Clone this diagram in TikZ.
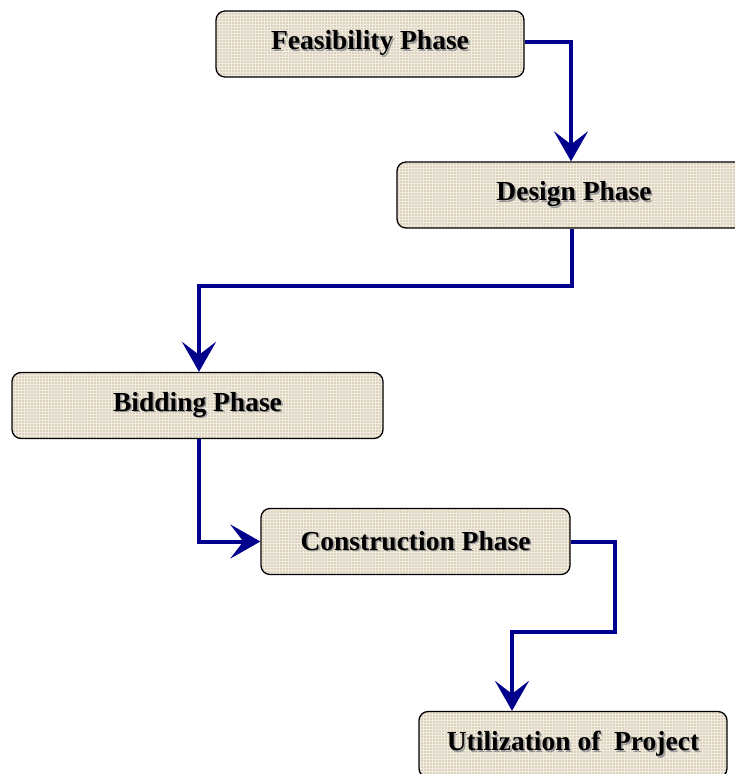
\documentclass[tikz,border=0pt]{standalone}
\usepackage{fontspec}
\setmainfont{Liberation Serif}
\usetikzlibrary{arrows.meta,patterns}

\definecolor{phasebg}{RGB}{221,210,188}
\definecolor{flowblue}{RGB}{0,0,140}

% text with a soft grey shadow
\newcommand{\phasetext}[1]{\rlap{\kern1.6pt\raisebox{-1.6pt}{\color{black!40}#1}}#1}

\begin{document}
\begin{tikzpicture}[x=1pt, y=-1pt,
        phase/.style={draw=black, line width=1.3pt, rounded corners=9pt,
            preaction={fill=phasebg},
            pattern=grid, pattern color=white!55!phasebg,
            minimum height=66pt, inner sep=0pt,
            font=\fontsize{27.5}{30}\selectfont\bfseries},
        flow/.style={draw=flowblue, line width=4pt,
            -{Stealth[length=30pt, width=34pt, inset=13pt]}}]
        % Fix the frame of the picture
        \useasboundingbox (0,0) rectangle (734,774);

        % The five phases of the project
        \node[phase, minimum width=308pt] (fea) at (370,44) {\raisebox{2pt}{\phasetext{Feasibility Phase}}};
        \node[phase, minimum width=354pt] (des) at (574,195) {\raisebox{2pt}{\phasetext{Design Phase}}};
        \node[phase, minimum width=371pt] (bid) at (197.5,405.5) {\raisebox{2pt}{\phasetext{Bidding Phase}}};
        \node[phase, minimum width=309pt] (con) at (415.5,541.5) {\raisebox{2pt}{\phasetext{Construction Phase}}};
        \node[phase, minimum width=308pt] (uti) at (573,744.5) {\raisebox{2pt}{\phasetext{Utilization of~ Project}}};

        % Connect the phases in order
        \draw[flow] ([yshift=2pt]fea.east) -| ([xshift=-3pt]des.north);
        \draw[flow] ([xshift=-2pt]des.south) -- ++(0,57) -| ([xshift=1.5pt]bid.north);
        \draw[flow] ([xshift=1.5pt]bid.south) |- (con.west);
        \draw[flow] (con.east) -- ++(44,0) -- ++(0,90) -| ([xshift=-61pt]uti.north);

    \end{tikzpicture}
\end{document}
